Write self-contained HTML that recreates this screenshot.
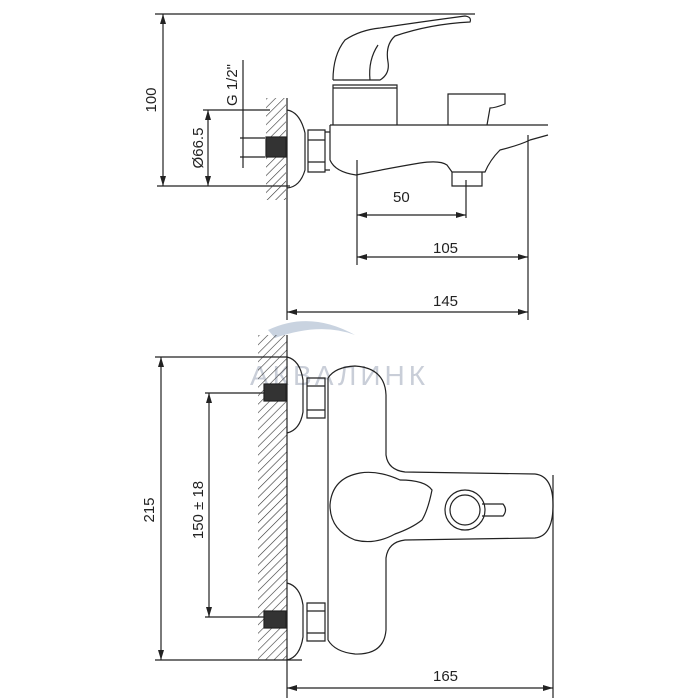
<!DOCTYPE html>
<html><head><meta charset="utf-8"><style>
html,body{margin:0;padding:0;background:#fff;}
svg{display:block;}
text{font-family:"Liberation Sans",Arial,sans-serif;font-size:15px;fill:#222;}
</style></head><body>
<svg width="700" height="700" viewBox="0 0 700 700" xmlns="http://www.w3.org/2000/svg">
<defs>
<pattern id="h" width="6" height="6" patternUnits="userSpaceOnUse" patternTransform="rotate(45)">
<line x1="0" y1="0" x2="0" y2="6" stroke="#333" stroke-width="1.2"/>
</pattern>
<marker id="a" viewBox="0 0 10 6" refX="10" refY="3" markerWidth="10" markerHeight="6" orient="auto-start-reverse" markerUnits="userSpaceOnUse">
<path d="M0,0 L10,3 L0,6 Z" fill="#222"/>
</marker>
</defs>
<g stroke="#222" stroke-width="1.2" fill="none">
<!-- watermark -->
<path d="M268,330 Q310,310 355,335 Q320,322 275,338 Z" fill="#c9d3e0" stroke="none"/>
<text x="250" y="385" style="font-size:28px;fill:#c9ced8;stroke:none;letter-spacing:4px">АКВАЛИНК</text>

<!-- TOP VIEW -->
<line x1="155" y1="14" x2="475" y2="14"/>
<line x1="163" y1="14" x2="163" y2="186" marker-start="url(#a)" marker-end="url(#a)"/>
<line x1="157" y1="186" x2="290" y2="186"/>
<line x1="203" y1="110" x2="270" y2="110"/>
<line x1="208" y1="110" x2="208" y2="186" marker-start="url(#a)" marker-end="url(#a)"/>
<line x1="243" y1="60" x2="243" y2="168"/>
<line x1="240" y1="138" x2="265" y2="138"/>
<line x1="240" y1="157" x2="265" y2="157"/>
<rect x="266" y="98" width="20" height="102" fill="url(#h)" stroke="none"/>
<rect x="266" y="137" width="20" height="20" fill="#333" stroke="#222"/>
<line x1="287" y1="98" x2="287" y2="320"/>
<path d="M287,110 Q300,112 305,133 L305,170 Q300,187 287,188"/>
<path d="M308,130 L325,130 L325,172 L308,172 Z M308,140 L325,140 M308,162 L325,162"/>
<path d="M325,132 L330,132 M325,170 L330,170"/>
<!-- body -->
<path d="M330,125 L548,125 M330,125 L330,160 Q335,172 356,175 Q390,168 420,163 Q440,160 447,165 L452,172 L485,172 Q490,160 500,150 Q520,145 530,140 L548,135"/>
<path d="M452,172 L452,186 L482,186 L482,172"/>
<!-- lever -->
<path d="M333,125 L333,85 L397,85 L397,125 M333,88 L397,88"/>
<path d="M333,80 Q333,55 345,40 Q360,30 380,28 Q420,22 465,16 Q472,17 470,22 Q430,24 395,36 Q385,45 388,62 Q390,74 380,80 L333,80"/>
<path d="M370,80 Q368,60 378,45"/>
<!-- diverter -->
<path d="M448,125 L448,94 L505,94 L505,104 Q495,108 490,108 L487,125"/>
<!-- dims -->
<line x1="357" y1="160" x2="357" y2="265"/>
<line x1="466" y1="180" x2="466" y2="218"/>
<line x1="528" y1="135" x2="528" y2="320"/>
<line x1="357" y1="215" x2="466" y2="215" marker-start="url(#a)" marker-end="url(#a)"/>
<line x1="357" y1="257" x2="528" y2="257" marker-start="url(#a)" marker-end="url(#a)"/>
<line x1="287" y1="312" x2="528" y2="312" marker-start="url(#a)" marker-end="url(#a)"/>
</g>
<text x="393" y="202" stroke="none">50</text>
<text x="433" y="253" stroke="none">105</text>
<text x="433" y="306" stroke="none">145</text>
<text transform="translate(156,100) rotate(-90)" text-anchor="middle" stroke="none">100</text>
<text transform="translate(203,148) rotate(-90)" text-anchor="middle" stroke="none">Ø66.5</text>
<text transform="translate(237,85) rotate(-90)" text-anchor="middle" stroke="none">G 1/2"</text>

<g stroke="#222" stroke-width="1.2" fill="none">
<!-- BOTTOM VIEW -->
<rect x="258" y="335" width="29" height="325" fill="url(#h)" stroke="none"/>
<line x1="287" y1="335" x2="287" y2="698"/>
<line x1="155" y1="357" x2="287" y2="357"/>
<line x1="155" y1="660" x2="302" y2="660"/>
<line x1="161" y1="357" x2="161" y2="660" marker-start="url(#a)" marker-end="url(#a)"/>
<line x1="205" y1="393" x2="265" y2="393"/>
<line x1="205" y1="617" x2="265" y2="617"/>
<line x1="209" y1="393" x2="209" y2="617" marker-start="url(#a)" marker-end="url(#a)"/>
<rect x="264" y="384" width="22" height="17" fill="#333"/>
<rect x="264" y="611" width="22" height="17" fill="#333"/>
<path d="M287,357 Q300,360 303,380 L303,412 Q300,430 287,433"/>
<path d="M287,583 Q300,586 303,605 L303,637 Q300,657 287,660"/>
<path d="M307,378 L325,378 L325,418 L307,418 Z M307,386 L325,386 M307,410 L325,410"/>
<path d="M307,603 L325,603 L325,641 L307,641 Z M307,611 L325,611 M307,633 L325,633"/>
<!-- body -->
<path d="M328,378 L328,640"/>
<path d="M328,378 Q335,367 355,366 Q385,368 386,395 L386,455 Q388,470 405,472 L535,474 Q553,476 553,505 Q553,536 535,538 L405,540 Q388,542 386,558 L386,630 Q384,655 355,654 Q335,652 328,640"/>
<path d="M400,480 Q425,480 432,490 Q428,510 422,520 Q412,528 395,534 Q375,545 355,540 Q330,530 330,505 Q332,478 360,473 Q378,470 400,480 Z"/>
<circle cx="465" cy="510" r="20"/>
<circle cx="465" cy="510" r="15"/>
<path d="M482,504 L503,504 Q508,510 503,516 L482,516"/>
<line x1="553" y1="475" x2="553" y2="698"/>
<line x1="287" y1="688" x2="553" y2="688" marker-start="url(#a)" marker-end="url(#a)"/>
</g>
<text x="433" y="681" stroke="none">165</text>
<text transform="translate(154,510) rotate(-90)" text-anchor="middle" stroke="none">215</text>
<text transform="translate(203,510) rotate(-90)" text-anchor="middle" stroke="none">150 ± 18</text>
</svg>
</body></html>
